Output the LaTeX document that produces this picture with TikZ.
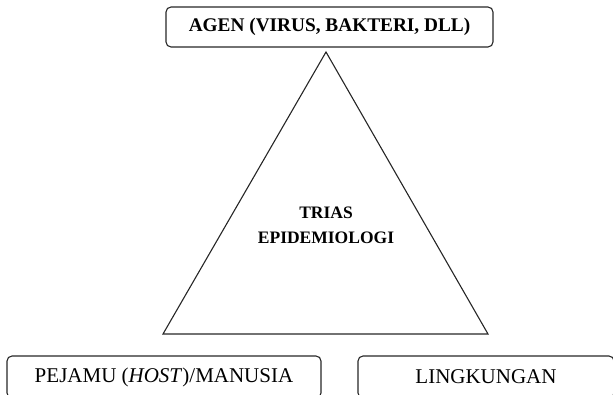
\documentclass[tikz,border=0pt]{standalone}
\usepackage{fontspec}
\setmainfont{Liberation Serif}

\begin{document}
\begin{tikzpicture}[%
    x=1pt, y=-1pt,
    boxnode/.style={rectangle, rounded corners=5pt, draw=black!85, line width=1.1pt, align=center, inner sep=0pt, minimum height=40pt},
    bigbold/.style={font=\fontsize{19.3}{23}\selectfont\bfseries},
    bigtext/.style={font=\fontsize{21}{24}\selectfont},
    titlenode/.style={align=center, font=\fontsize{17.5}{25}\selectfont\bfseries}
]
\useasboundingbox (0,0) rectangle (613,395);

% Agent
\node[boxnode, bigbold, minimum width=327pt] (agen) at (329.5,27) {AGEN (VIRUS, BAKTERI, DLL)};

% Triangle
\coordinate (apex) at (326,52);
\coordinate (hostcorner) at (163,334);
\coordinate (envcorner) at (488,334);
\draw[line width=1.1pt, draw=black!85] (apex) -- (hostcorner) -- (envcorner) -- cycle;

\node[titlenode] (trias) at (326,225) {TRIAS\\EPIDEMIOLOGI};

% Host and environment
\node[boxnode, bigtext, minimum width=314pt, minimum height=42pt] (host) at (164,377) {PEJAMU (\textit{HOST})/MANUSIA};
\node[boxnode, bigtext, minimum width=256pt, minimum height=42pt] (lingkungan) at (486,377) {LINGKUNGAN};

\end{tikzpicture}
\end{document}
